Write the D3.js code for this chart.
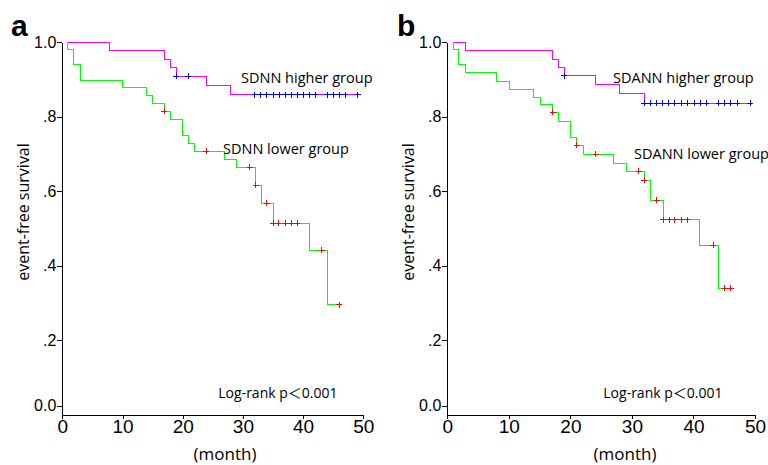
<!DOCTYPE html>
<html>
<head>
<meta charset="utf-8">
<script src="https://cdn.jsdelivr.net/npm/d3@7"></script>
<style>
  body { margin: 0; background: #fff; }
  text { fill: #000; }
</style>
</head>
<body>
<svg id="chart" width="768" height="465"></svg>
<script>
// tick values
const monthTicks = [0, 10, 20, 30, 40, 50];
const survivalTicks = [0, 0.2, 0.4, 0.6, 0.8, 1.0];

// panel a - SDNN
const sdnnHighT = [0.9, 7.9, 16.9, 17.9, 18.9, 23.9, 27.9, 49.1];
const sdnnHighS = [1.0, 0.978, 0.954, 0.932, 0.908, 0.883, 0.858, 0.858];
const sdnnHighCens = [18.9, 20.9, 32, 33, 34, 35, 36, 37, 38, 39, 40, 41, 42, 44, 45, 46, 47, 49.1];

const sdnnLowT = [0.9, 0.9, 1.8, 3.0, 10.0, 14.0, 15.0, 16.9, 17.9, 19.9, 20.9, 21.9, 26.9, 28.9, 32.1, 33.1, 35.0, 41.0, 44.0, 46.0];
const sdnnLowS = [1.0, 0.980, 0.940, 0.897, 0.877, 0.856, 0.835, 0.814, 0.793, 0.750, 0.728, 0.707, 0.686, 0.664, 0.616, 0.568, 0.514, 0.442, 0.295, 0.295];
const sdnnLowCens = [16.9, 23.9, 31.1, 32.1, 34.0, 35.0, 35.9, 37.0, 38.0, 39.0, 43.1, 46.0];

// panel b - SDANN
const sdannHighT = [1.0, 3.0, 17.1, 18.05, 19.0, 24.1, 28.0, 32.0, 49.2];
const sdannHighS = [1.0, 0.978, 0.954, 0.932, 0.910, 0.885, 0.861, 0.836, 0.836];
const sdannHighCens = [19.0, 32.0, 33.0, 34.0, 35.0, 36.0, 37.0, 38.0, 39.0, 40.1, 41.1, 42.1, 44.1, 45.1, 46.1, 47.1, 49.2];

const sdannLowT = [1.0, 1.0, 1.9, 3.0, 8.0, 10.1, 14.0, 15.1, 17.1, 18.05, 20.0, 21.0, 22.1, 27.0, 29.1, 32.0, 33.0, 35.1, 41.0, 44.1, 46.1];
const sdannLowS = [1.0, 0.980, 0.939, 0.917, 0.895, 0.872, 0.851, 0.832, 0.812, 0.788, 0.743, 0.723, 0.699, 0.675, 0.653, 0.629, 0.576, 0.523, 0.455, 0.340, 0.340];
const sdannLowCens = [17.1, 21.0, 24.1, 31.1, 32.0, 34.05, 35.1, 36.1, 37.0, 38.0, 39.0, 43.2, 45.1, 46.1];

const svg = d3.select("#chart");
const textFont = "'Open Sans', 'Noto Sans CJK JP', sans-serif";
const tickFont = "'Liberation Sans', Arial, sans-serif";

function fmtSurv(d) {
    if (d === 0) return "0.0";
    if (d === 1) return "1.0";
    return d3.format(".1f")(d).replace(/^0/, "");
}

function survivalAt(times, surv, t) {
    let i = d3.bisectRight(times, t) - 1;
    return surv[Math.max(0, i)];
}

function drawPanel(p) {
    let x = d3.scaleLinear().domain([0, 50]).range([p.left, p.right]);
    let y = d3.scaleLinear().domain([0, 1]).range([415, 42]);
    let g = svg.append("g");

    // axes
    let xAxis = g.append("g")
        .attr("transform", `translate(0,${y(0)})`)
        .call(d3.axisBottom(x).tickValues(monthTicks).tickSizeInner(4).tickSizeOuter(0).tickPadding(1));
    xAxis.selectAll("text").style("font-family", tickFont).style("font-size", "19px");

    let yAxis = g.append("g")
        .attr("transform", `translate(${x(0)},0)`)
        .call(d3.axisLeft(y).tickValues(survivalTicks).tickFormat(fmtSurv).tickSizeInner(5).tickSizeOuter(0).tickPadding(1));
    yAxis.selectAll("text").style("font-family", tickFont).style("font-size", "16px");
    // the 0.0 tick sits a little above the x axis
    yAxis.selectAll(".tick").filter(d => d === 0).attr("transform", `translate(0,${y(0) - 9})`);

    svg.selectAll(".domain, .tick line").attr("stroke", "#000").attr("stroke-width", 1)
        .attr("shape-rendering", "crispEdges");

    let line = d3.line().x(d => x(d[0])).y(d => y(d[1])).curve(d3.curveStepAfter);

    p.groups.forEach(gr => {
        let pts = gr.t.map((t, i) => [t, gr.s[i]]);
        g.append("path")
            .attr("d", line(pts))
            .attr("fill", "none")
            .attr("stroke", gr.color)
            .attr("stroke-width", 1)
            .attr("shape-rendering", "crispEdges");

        g.selectAll(null)
            .data(gr.cens)
            .enter()
            .append("path")
            .attr("transform", c => `translate(${x(c)},${y(survivalAt(gr.t, gr.s, c))})`)
            .attr("d", "M-3,0H3M0,-3V3")
            .attr("stroke", gr.markColor)
            .attr("stroke-width", 1)
            .attr("shape-rendering", "crispEdges");

        g.append("text")
            .attr("x", gr.labelX)
            .attr("y", gr.labelY)
            .style("font-family", textFont)
            .style("font-size", "14.5px")
            .text(gr.name);
    });

    g.append("text")
        .attr("x", p.left + 156)
        .attr("y", 398)
        .style("font-family", textFont)
        .style("font-size", "14px")
        .text("Log-rank p＜0.001");

    g.append("text")
        .attr("x", p.monthX)
        .attr("y", 460)
        .attr("text-anchor", "middle")
        .style("font-family", textFont)
        .style("font-size", "17px")
        .text("(month)");

    g.append("text")
        .attr("transform", `translate(${p.left - 33},212) rotate(-90)`)
        .attr("text-anchor", "middle")
        .style("font-family", textFont)
        .style("font-size", "16px")
        .text("event-free survival");

    g.append("text")
        .attr("x", p.letterX)
        .attr("y", 36)
        .style("font-family", tickFont)
        .style("font-size", "30px")
        .style("font-weight", "bold")
        .text(p.letter);
}

drawPanel({
    letter: "a", letterX: 11, left: 62.3, right: 363.3, monthX: 225,
    groups: [
        { name: "SDNN higher group", t: sdnnHighT, s: sdnnHighS, cens: sdnnHighCens,
          color: "#ff00ff", markColor: "#0000ff", labelX: 241, labelY: 83 },
        { name: "SDNN lower group", t: sdnnLowT, s: sdnnLowS, cens: sdnnLowCens,
          color: "#00ff00", markColor: "#ff0000", labelX: 223, labelY: 154 }
    ]
});

drawPanel({
    letter: "b", letterX: 397, left: 447.3, right: 755, monthX: 625,
    groups: [
        { name: "SDANN higher group", t: sdannHighT, s: sdannHighS, cens: sdannHighCens,
          color: "#ff00ff", markColor: "#0000ff", labelX: 613, labelY: 83 },
        { name: "SDANN lower group", t: sdannLowT, s: sdannLowS, cens: sdannLowCens,
          color: "#00ff00", markColor: "#ff0000", labelX: 634, labelY: 159 }
    ]
});
</script>
</body>
</html>
